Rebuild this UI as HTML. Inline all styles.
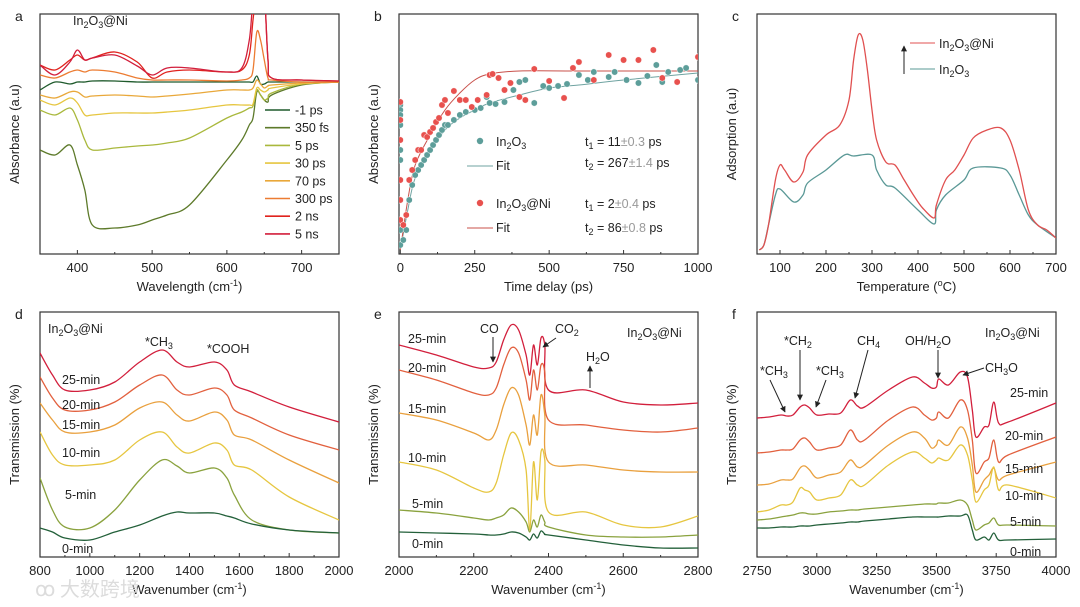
<!DOCTYPE html>
<html><head><meta charset="utf-8">
<style>
html,body{margin:0;padding:0;background:#fff;}
svg{display:block;font-family:"Liberation Sans",Arial,sans-serif;}
text{fill:#222;}
</style></head>
<body>
<svg id="fig" width="1080" height="607" viewBox="0 0 1080 607" xmlns="http://www.w3.org/2000/svg">
<defs>
<clipPath id="clipA"><rect x="40" y="14" width="299" height="240"/></clipPath>
<clipPath id="clipB"><rect x="399" y="14" width="299" height="240"/></clipPath>
<clipPath id="clipC"><rect x="757" y="14" width="299" height="240"/></clipPath>
<clipPath id="clipD"><rect x="40" y="312" width="299" height="245"/></clipPath>
<clipPath id="clipE"><rect x="399" y="312" width="299" height="245"/></clipPath>
<clipPath id="clipF"><rect x="757" y="312" width="299" height="245"/></clipPath>
<marker id="arr" viewBox="0 0 10 10" refX="9" refY="5" markerWidth="6" markerHeight="6" orient="auto"><path d="M0,0L10,5L0,10z" fill="#222"/></marker>
</defs>
<g id="layer"></g>
<text x="35" y="596" font-family="'Noto Sans CJK SC',sans-serif" font-size="20" style="fill:#dcdcdc">ꝏ 大数跨境</text>
</svg>
<script>
// ---------- DATA ----------
const aX=[350,370,390,400,410,420,450,480,500,520,550,600,620,630,635,640,645,650,655,660,700,750];
const aM1=[164,172,170,172,172,173,173,172,172,172,172,172,172,172,172,178,170,170,172,172,172,172];
const a350fs=[104,99,109,89,64,29,26,29,34,39,49,94,114,129,136,162,159,154,152,159,169,172];
const a5ps=[144,139,146,134,114,104,106,108,109,111,116,136,142,146,148,164,159,154,156,161,170,172];
const a30ps=[154,149,156,151,139,139,141,141,141,142,144,149,149,149,150,166,164,162,164,166,170,172];
const a70ps=[159,156,162,162,157,158,159,158,157,158,160,164,164,164,166,174,170,166,168,169,171,172];
const a300ps=[179,176,182,184,182,184,182,176,174,174,174,173,174,176,184,222,214,194,176,174,172,172];
const a2ns=[189,184,194,199,194,196,202,192,176,182,184,182,184,199,234,264,264,264,194,176,174,173];
const a5ns=[189,179,192,204,194,196,199,188,179,186,186,182,186,214,254,264,264,264,194,176,174,173];
const aLabels=["-1 ps","350 fs","5 ps","30 ps","70 ps","300 ps","2 ns","5 ns"];

const bFitRX=[0,25,50,100,150,200,250,300,400,600,1000];
const bFitRY=[4,54,89,119,144,161,174,180,183,183,183];
const bFitTX=[0,25,50,100,150,200,250,300,400,500,600,750,1000];
const bFitTY=[4,44,76,102,124,136,144,151,159,166,169,174,181];
const bTealX=[0,0,0,0,0,0,0,0,0,0,10,20,30,40,50,60,70,80,90,100,110,120,130,140,150,160,180,200,220,250,270,290,300,320,350,380,400,420,450,480,500,530,560,600,630,650,700,720,760,800,830,860,880,900,940,960,1000];
const bTealY=[149,144,139,134,129,104,94,54,24,9,14,24,54,69,79,84,89,94,99,104,109,114,119,124,129,129,134,139,142,144,146,157,151,150,152,164,172,174,151,168,166,168,170,179,174,182,177,182,174,171,178,189,172,182,184,186,174];
const bRedX=[0,0,0,0,0,0,10,20,30,40,50,60,70,80,90,100,110,120,130,140,150,160,180,200,220,240,260,290,300,310,330,350,370,400,420,450,500,550,580,600,650,700,750,800,850,880,930,1000];
const bRedY=[152,134,114,74,54,34,29,39,74,84,94,104,104,119,117,122,126,132,136,149,154,141,163,154,154,147,154,159,179,180,176,164,171,157,154,185,173,156,186,192,174,199,194,194,204,176,172,197];

const cRedX=[55,65,75,90,100,110,130,150,160,200,230,250,260,270,280,290,300,310,330,350,370,390,410,435,440,460,480,500,520,550,580,600,620,640,660,680,700];
const cRedY=[4,9,29,74,89,84,72,82,99,119,129,154,194,219,214,184,144,114,92,89,74,59,46,36,49,74,84,99,116,124,126,114,84,44,29,24,16];
const cTealX=[55,65,75,90,100,130,150,160,200,240,260,300,310,330,350,400,435,440,460,500,520,580,600,620,640,660,700];
const cTealY=[4,9,29,59,65,52,59,71,84,99,98,99,84,69,66,44,30,44,59,74,86,86,79,59,39,29,16];

const dX=[800,850,900,1000,1100,1200,1290,1350,1400,1500,1550,1580,1650,1800,2000];
const d25=[204,182,167,167,175,195,207,195,190,195,187,172,165,150,135];
const d20=[180,159,147,147,155,172,182,167,162,169,162,147,139,122,107];
const d15=[154,137,125,125,132,149,155,142,136,145,137,122,117,97,74];
const d10=[125,102,92,92,97,117,125,110,104,114,107,92,87,60,37];
const d5=[79,47,30,29,47,77,97,91,84,89,79,62,37,27,24];
const d0=[29,25,19,17,25,32,41,45,44,44,41,39,33,27,24];

const eX=[2000,2100,2200,2240,2260,2280,2300,2320,2340,2350,2360,2370,2380,2390,2400,2500,2600,2700,2800];
const e25=[212,202,190,189,195,217,232,227,202,182,212,192,219,212,167,167,155,152,154];
const e20=[187,177,164,162,169,192,209,204,177,157,187,167,192,185,137,132,127,125,129];
const e15=[144,137,124,117,127,152,169,162,132,112,142,122,162,142,95,92,87,85,85];
const e10=[95,87,69,65,74,102,124,117,87,27,95,57,105,97,45,45,32,30,41];
const e5=[47,44,39,37,39,42,49,45,35,25,37,30,42,35,30,22,20,20,22];
const e0=[25,24,23,22,22,23,25,24,20,17,23,19,26,23,22,17,12,9,9];

const fX=[2750,2800,2850,2875,2900,2930,2950,2970,3000,3050,3100,3140,3170,3200,3300,3400,3450,3480,3500,3510,3550,3600,3630,3650,3665,3700,3720,3740,3760,3800,4000];
const f25=[139,140,142,141,142,150,152,149,142,143,144,157,151,150,167,180,174,169,170,178,172,185,180,147,120,130,132,155,134,135,154];
const f20=[104,105,107,107,108,117,119,115,107,109,112,127,117,117,137,150,142,137,139,145,139,157,147,117,84,95,99,117,95,102,120];
const f15=[72,73,77,77,78,89,91,87,79,82,85,97,90,92,112,125,119,109,112,117,112,130,119,92,65,77,82,89,77,82,95];
const f10=[45,47,52,52,55,69,67,65,57,59,62,77,72,72,92,105,99,94,97,99,97,112,102,77,55,67,72,90,67,72,59];
const f5=[37,38,40,41,42,44,44,43,43,45,46,47,47,48,50,52,53,53,53,54,54,57,52,37,27,32,34,39,32,32,31];
const f0=[29,29,30,30,30,31,31,31,32,33,34,35,35,36,38,40,40,40,40,40,41,41,42,27,17,20,17,24,17,17,18];

const minLabels=["25-min","20-min","15-min","10-min","5-min","0-min"];
const ticksA=[400,500,600,700], ticksB=[0,250,500,750,1000], ticksC=[100,200,300,400,500,600,700];
const ticksD=[800,1000,1200,1400,1600,1800,2000], ticksE=[2000,2200,2400,2600,2800], ticksF=[2750,3000,3250,3500,3750,4000];

// ---------- DRAW ----------
const NS="http://www.w3.org/2000/svg";
const layer=document.getElementById('layer');
function el(tag,attrs,parent){const e=document.createElementNS(NS,tag);for(const k in attrs)e.setAttribute(k,attrs[k]);(parent||layer).appendChild(e);return e;}
function mkScale(d0,d1,r0,r1){return v=>r0+(v-d0)/(d1-d0)*(r1-r0);}
function panel(id,x0,x1,top,bot,xd0,xd1,ticks,minorStep,xtitle,ytitle,letter){
  const g=el('g',{});
  
  
  const P={g,x:mkScale(xd0,xd1,x0,x1),y:mkScale(0,bot-top,bot,top),clip:'url(#clip'+id.toUpperCase()+')'};
  const f=el('rect',{x:x0,y:top,width:x1-x0,height:bot-top,fill:'none',stroke:'#333','stroke-width':1.2},g);
  
  
  for(let v=Math.ceil(xd0/minorStep)*minorStep;v<=xd1;v+=minorStep){
    const px=P.x(v);const major=ticks.indexOf(v)>=0;
    const t=el('line',{x1:px,x2:px,y1:bot,y2:bot-(major?4:2),stroke:'#333','stroke-width':1},g);
    
    
  }
  ticks.forEach(v=>{const t=el('text',{x:P.x(v),y:bot+18,'font-size':13,'text-anchor':'middle'},g);t.textContent=v;
    
    });
  const xt=el('text',{x:(x0+x1)/2,y:bot+37,'font-size':13,'text-anchor':'middle'},g);xt.innerHTML=xtitle;
  
  
  const cy=(top+bot)/2, cx=x0-21;
  const yt=el('text',{x:cx,y:cy,'font-size':13,'text-anchor':'middle',transform:`rotate(-90 ${cx} ${cy})`},g);yt.textContent=ytitle;
  
  
  const lt=el('text',{x:x0-25,y:top+7,'font-size':14},g);lt.textContent=letter;
  
  
  return P;
}
function smoothPath(pts){
  let d='M'+pts[0][0].toFixed(1)+','+pts[0][1].toFixed(1);
  for(let i=0;i<pts.length-1;i++){
    const p0=pts[Math.max(0,i-1)],p1=pts[i],p2=pts[i+1],p3=pts[Math.min(pts.length-1,i+2)];
    const c1x=p1[0]+(p2[0]-p0[0])/6,c1y=p1[1]+(p2[1]-p0[1])/6;
    const c2x=p2[0]-(p3[0]-p1[0])/6,c2y=p2[1]-(p3[1]-p1[1])/6;
    d+='C'+c1x.toFixed(1)+','+c1y.toFixed(1)+' '+c2x.toFixed(1)+','+c2y.toFixed(1)+' '+p2[0].toFixed(1)+','+p2[1].toFixed(1);
  }
  return d;
}
function line(P,xs,ys,color,name,w){
  const pts=xs.map((x,i)=>[P.x(x),P.y(ys[i])]);
  const p=el('path',{d:smoothPath(pts),fill:'none',stroke:color,'stroke-width':w||1.3,'stroke-linejoin':'round','clip-path':P.clip},P.g);
  
  
}
function dots(P,xs,ys,color,name){
  xs.forEach((x,i)=>{const c=el('circle',{cx:P.x(x),cy:P.y(ys[i]),r:3.2,fill:color,stroke:'#fff','stroke-width':0.5,'clip-path':P.clip},P.g);
    
    });
}
function txt(P,x,y,html,name,size,anchor){const t=el('text',{x,y,'font-size':size||12.5,'text-anchor':anchor||'start'},P.g);t.innerHTML=html;
  
  return t;}
function arrow(P,x1,y1,x2,y2,name){const a=el('line',{x1,y1,x2,y2,stroke:'#222','stroke-width':1,'marker-end':'url(#arr)'},P.g);
  
  }
const sub=s=>`<tspan font-size="9" dy="3">${s}</tspan><tspan dy="-3">&#8203;</tspan>`;
const sup=s=>`<tspan font-size="9" dy="-5">${s}</tspan><tspan dy="5">&#8203;</tspan>`;
const IN=`In${sub('2')}O${sub('3')}`;

// Panel a
const A=panel('a',40,339,14,254,350,750,ticksA,50,`Wavelength (cm${sup('-1')})`,'Absorbance (a.u)','a');
const aCols=['#1f5a2c','#5d7a2a','#a9b83c','#e6c640','#e9a83a','#ec7c32','#e0231e','#d21f3c'];
[aM1,a350fs,a5ps,a30ps,a70ps,a300ps,a2ns,a5ns].forEach((s,i)=>line(A,aX,s,aCols[i],'series-'+aLabels[i].replace(' ','')));
aLabels.forEach((l,i)=>{const y=110+i*17.7;
  const s=el('line',{x1:265,x2:290,y1:y,y2:y,stroke:aCols[i],'stroke-width':1.6},A.g);
  
  
  txt(A,295,y+4.5,l,'legend-label',12.5);});
txt(A,73,25,IN+'@Ni','sample-label',12.5);

// Panel b
const B=panel('b',399,698,14,254,-4.4,1000,ticksB,125,'Time delay (ps)','Absorbance (a.u)','b');
line(B,bFitTX,bFitTY,'#6fa3a1','fit-in2o3',1);
line(B,bFitRX,bFitRY,'#c8504a','fit-in2o3-ni',1);
dots(B,bTealX,bTealY,'#5d9e9a','point-in2o3');
dots(B,bRedX,bRedY,'#e8514e','point-in2o3-ni');
el('circle',{cx:480,cy:141,r:3.2,fill:'#5d9e9a'},B.g);
txt(B,496,146,IN,'legend-in2o3');
el('line',{x1:467,x2:493,y1:166,y2:166,stroke:'#6fa3a1'},B.g);
txt(B,496,170,'Fit','legend-fit');
el('circle',{cx:480,cy:203,r:3.2,fill:'#e8514e'},B.g);
txt(B,496,208,IN+'@Ni','legend-in2o3-ni');
el('line',{x1:467,x2:493,y1:228,y2:228,stroke:'#c8504a'},B.g);
txt(B,496,232,'Fit','legend-fit-ni');
const G=s=>`<tspan style="fill:#999">${s}</tspan>`;
txt(B,585,146,`t${sub('1')} = 11${G('±0.3')} ps`,'tau1-in2o3');
txt(B,585,167,`t${sub('2')} = 267${G('±1.4')} ps`,'tau2-in2o3');
txt(B,585,208,`t${sub('1')} = 2${G('±0.4')} ps`,'tau1-ni');
txt(B,585,232,`t${sub('2')} = 86${G('±0.8')} ps`,'tau2-ni');

// Panel c
const C=panel('c',757,1056,14,254,50,700,ticksC,50,`Temperature (${sup('o')}C)`,'Adsorption (a.u)','c');
line(C,cTealX,cTealY,'#5a9896','series-in2o3');
line(C,cRedX,cRedY,'#e05050','series-in2o3-ni');
el('line',{x1:910,x2:935,y1:43,y2:43,stroke:'#e05050'},C.g);
txt(C,939,48,IN+'@Ni','legend-in2o3-ni');
el('line',{x1:910,x2:935,y1:69,y2:69,stroke:'#5a9896'},C.g);
txt(C,939,74,IN,'legend-in2o3');
arrow(C,904,74,904,46,'legend-arrow');

const mCols=['#d21f3c','#e2603e','#e9a03e','#e6c640','#8aa23e','#23603a'];
// Panel d
const D=panel('d',40,339,312,557,800,2000,ticksD,100,`Wavenumber (cm${sup('-1')})`,'Transmission (%)','d');
[d25,d20,d15,d10,d5,d0].forEach((s,i)=>line(D,dX,s,mCols[i],'series-'+minLabels[i]));
[[62,384],[62,409],[62,429],[62,457],[65,499],[62,553]].forEach((p,i)=>txt(D,p[0],p[1],minLabels[i],'time-label'));
txt(D,48,333,IN+'@Ni','sample-label');
txt(D,145,346,`*CH${sub('3')}`,'peak-ch3');
txt(D,207,353,'*COOH','peak-cooh');

// Panel e
const E=panel('e',399,698,312,557,2000,2800,ticksE,100,`Wavenumber (cm${sup('-1')})`,'Transmission (%)','e');
[e25,e20,e15,e10,e5,e0].forEach((s,i)=>line(E,eX,s,mCols[i],'series-'+minLabels[i]));
[[408,343],[408,372],[408,413],[408,462],[412,508],[412,548]].forEach((p,i)=>txt(E,p[0],p[1],minLabels[i],'time-label'));
txt(E,627,337,IN+'@Ni','sample-label');
txt(E,480,333,'CO','peak-co');arrow(E,493,337,493,362,'arrow-co');
txt(E,555,333,`CO${sub('2')}`,'peak-co2');arrow(E,556,338,543,347,'arrow-co2');
txt(E,586,361,`H${sub('2')}O`,'peak-h2o');arrow(E,590,388,590,366,'arrow-h2o');

// Panel f
const F=panel('f',757,1056,312,557,2750,4000,ticksF,125,`Wavenumber (cm${sup('-1')})`,'Transmission (%)','f');
[f25,f20,f15,f10,f5,f0].forEach((s,i)=>line(F,fX,s,mCols[i],'series-'+minLabels[i]));
[[1010,397],[1005,440],[1005,473],[1005,500],[1010,526],[1010,556]].forEach((p,i)=>txt(F,p[0],p[1],minLabels[i],'time-label'));
txt(F,985,337,IN+'@Ni','sample-label');
txt(F,760,375,`*CH${sub('3')}`,'peak-ch3-a');arrow(F,770,380,785,412,'arrow-ch3-a');
txt(F,784,345,`*CH${sub('2')}`,'peak-ch2');arrow(F,800,350,800,400,'arrow-ch2');
txt(F,816,375,`*CH${sub('3')}`,'peak-ch3-b');arrow(F,826,380,816,407,'arrow-ch3-b');
txt(F,857,345,`CH${sub('4')}`,'peak-ch4');arrow(F,868,350,855,398,'arrow-ch4');
txt(F,905,345,`OH/H${sub('2')}O`,'peak-oh');arrow(F,938,350,938,378,'arrow-oh');
txt(F,985,372,`CH${sub('3')}O`,'peak-ch3o');arrow(F,984,368,963,375,'arrow-ch3o');
</script>
</body></html>
